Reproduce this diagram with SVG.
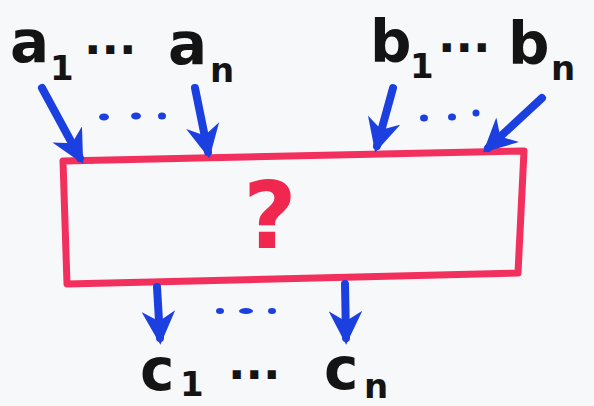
<svg xmlns="http://www.w3.org/2000/svg" width="594" height="406" viewBox="0 0 594 406">
<style>
.lbl{font-family:"DejaVu Sans",sans-serif;font-weight:bold;fill:#141414}
.main{font-size:58px}
.sub{font-size:34px}
.dots{font-size:46px}
.arr{stroke:#1c3fe0;stroke-width:8;stroke-linecap:round;fill:none}
.bdot{fill:#1c3fe0}
</style>
<defs>
<marker id="ah" viewBox="0 0 10 10" refX="8" refY="5" markerWidth="4.2" markerHeight="4.2" orient="auto" markerUnits="strokeWidth">
<path d="M0,0 L10,5 L0,10 L3,5 Z" fill="#1c3fe0"/>
</marker>
</defs>
<rect width="594" height="406" fill="#f7f8fa"/>
<g id="box">
<path d="M63,161 L524,151 L518,273 L67,284 Z" fill="none" stroke="#f2305e" stroke-width="7" stroke-linejoin="round"/>
<text x="270" y="248" text-anchor="middle" style="font-family:'DejaVu Sans',sans-serif;font-weight:bold;font-size:92px;fill:#f0284f">?</text>
</g>
<g id="a-labels">
<text class="lbl main" x="10" y="62">a</text>
<text class="lbl sub" x="50" y="80">1</text>
<text class="lbl dots" x="84" y="66">···</text>
<text class="lbl main" x="168" y="64">a</text>
<text class="lbl sub" x="210" y="82">n</text>
</g>
<g id="b-labels">
<text class="lbl main" x="370" y="62">b</text>
<text class="lbl sub" x="410" y="78">1</text>
<text class="lbl dots" x="438" y="64">···</text>
<text class="lbl main" x="508" y="64">b</text>
<text class="lbl sub" x="551" y="80">n</text>
</g>
<g id="c-labels">
<text class="lbl main" x="140" y="390">c</text>
<text class="lbl sub" x="180" y="396">1</text>
<text class="lbl dots" x="228" y="391">···</text>
<text class="lbl main" x="324" y="389">c</text>
<text class="lbl sub" x="364" y="398">n</text>
</g>
<g id="connectors">
<line class="arr" x1="42" y1="88" x2="80" y2="158" marker-end="url(#ah)"/>
<line class="arr" x1="195" y1="88" x2="208" y2="152" marker-end="url(#ah)"/>
<line class="arr" x1="393" y1="88" x2="377" y2="146" marker-end="url(#ah)"/>
<line class="arr" x1="542" y1="98" x2="488" y2="148" marker-end="url(#ah)"/>
<line class="arr" x1="157" y1="287" x2="160" y2="338" marker-end="url(#ah)"/>
<line class="arr" x1="345" y1="284" x2="346" y2="338" marker-end="url(#ah)"/>
<ellipse class="bdot" cx="104" cy="117" rx="5" ry="3.5"/>
<ellipse class="bdot" cx="136" cy="116" rx="5" ry="3.5"/>
<ellipse class="bdot" cx="162" cy="116" rx="4" ry="3.5"/>
<ellipse class="bdot" cx="424" cy="118" rx="4" ry="3.5"/>
<ellipse class="bdot" cx="452" cy="117" rx="4" ry="3.5"/>
<ellipse class="bdot" cx="476" cy="113" rx="3.5" ry="3.5"/>
<ellipse class="bdot" cx="220" cy="311" rx="4" ry="3"/>
<ellipse class="bdot" cx="246" cy="311" rx="7" ry="3"/>
<ellipse class="bdot" cx="272" cy="311" rx="4" ry="3"/>
</g>
</svg>
